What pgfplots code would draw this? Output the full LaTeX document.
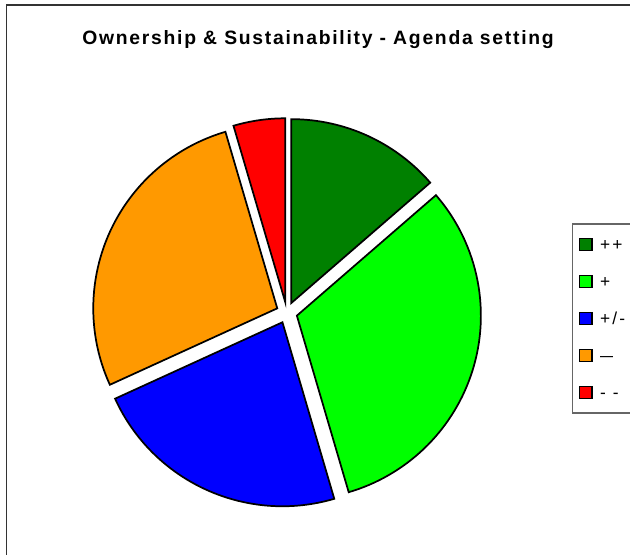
\documentclass[border=0pt]{standalone}
\usepackage{pgfplots}
\usepackage{pgfplotstable}
\pgfplotsset{compat=1.18}
\usepackage{fontspec}
\setmainfont{Liberation Sans}
\newfontfamily\spacedfont{Liberation Sans}[LetterSpace=12]
\newfontfamily\titlefont{Liberation Sans}[LetterSpace=9]
\definecolor{cDG}{RGB}{0,128,0}
\definecolor{cLG}{RGB}{0,255,0}
\definecolor{cB}{RGB}{0,0,255}
\definecolor{cO}{RGB}{255,153,0}
\definecolor{cR}{RGB}{255,0,0}
\pgfplotstableread{
value
3
7
5
6
1
}\piedata
\def\slice#1#2#3{\filldraw[fill=#3, draw=black, line width=1.3pt, line join=miter]
  (axis cs:{\cx+\dd*cos((#1+#2)/2)},{\cy+\dd*sin((#1+#2)/2)}) -- ++(#1:\R)
  arc[start angle=#1, end angle=#2, radius=\R] -- cycle;}
\begin{document}
\begin{tikzpicture}[x=0.75pt,y=0.75pt]
\pgfplotstablegetelem{0}{value}\of\piedata\let\vA\pgfplotsretval
\pgfplotstablegetelem{1}{value}\of\piedata\let\vB\pgfplotsretval
\pgfplotstablegetelem{2}{value}\of\piedata\let\vC\pgfplotsretval
\pgfplotstablegetelem{3}{value}\of\piedata\let\vD\pgfplotsretval
\pgfplotstablegetelem{4}{value}\of\piedata\let\vE\pgfplotsretval
\pgfmathsetmacro\tot{\vA+\vB+\vC+\vD+\vE}
\pgfmathsetmacro\sA{90}
\pgfmathsetmacro\eA{\sA-360*\vA/\tot}
\pgfmathsetmacro\eB{\eA-360*\vB/\tot}
\pgfmathsetmacro\eC{\eB-360*\vC/\tot}
\pgfmathsetmacro\eD{\eC-360*\vD/\tot}
\pgfmathsetmacro\eE{\eD-360*\vE/\tot}
\def\cx{286.8}\def\cy{241.3}\def\dd{10.5}\def\R{138pt}
\useasboundingbox (0,0) rectangle (630,554);
\begin{axis}[at={(0,0)}, anchor=south west, x=0.75pt, y=0.75pt,
  xmin=0, xmax=630, ymin=0, ymax=554, hide axis, clip=false,
  legend style={draw=none, fill=none, at={(axis cs:579,316.25)}, anchor=north west,
    inner sep=0pt, outer sep=0pt, row sep=17.45pt,
    font=\spacedfont\fontsize{13}{15}\selectfont,
    nodes={inner sep=0pt, text height=9.2pt, text depth=0pt, anchor=west},
    /tikz/every odd column/.append style={column sep=5.6pt}},
  legend cell align=left,
  legend image code/.code={\draw[#1, draw=black, line width=1.1pt] (0pt,-4.6pt) rectangle (9.2pt,4.6pt);}]
\draw[line width=1.1pt, black!80] (axis cs:6.5,-20) -- (axis cs:6.5,549) -- (axis cs:660,549);
\draw[line width=0.8pt, black!60] (axis cs:660,141) -- (axis cs:572.5,141) -- (axis cs:572.5,330) -- (axis cs:660,330);
\node[font=\titlefont\bfseries\fontsize{14.5}{16}\selectfont, anchor=base] at (axis cs:318,509.7) {Ownership \& Sustainability - Agenda setting};
\slice{\sA}{\eA}{cDG}
\slice{\eA}{\eB}{cLG}
\slice{\eB}{\eC}{cB}
\slice{\eC}{\eD}{cO}
\slice{\eD}{\eE}{cR}
\addlegendimage{fill=cDG}\addlegendentry{++}
\addlegendimage{fill=cLG}\addlegendentry{+}
\addlegendimage{fill=cB}\addlegendentry{+/-}
\addlegendimage{fill=cO}\addlegendentry{\scalebox{1.35}[1]{–}}
\addlegendimage{fill=cR}\addlegendentry{- -}
\end{axis}
\end{tikzpicture}
\end{document}
